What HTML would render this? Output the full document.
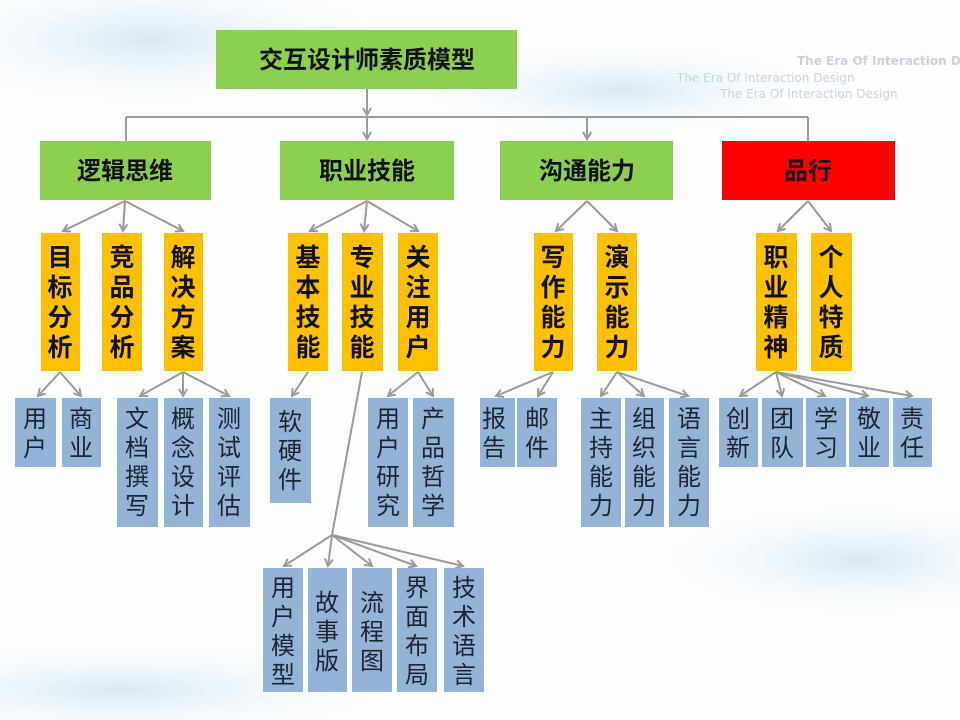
<!DOCTYPE html>
<html><head><meta charset="utf-8"><style>
html,body{margin:0;padding:0;width:960px;height:720px;overflow:hidden;background:#fff}
svg{display:block}
.y{font-family:"Liberation Sans","Noto Sans CJK SC",sans-serif;font-size:25px;font-weight:bold;fill:#111;text-anchor:middle}
.b{font-family:"Liberation Sans","Noto Sans CJK SC",sans-serif;font-size:24px;fill:#1c2430;text-anchor:middle}
.g{font-family:"Liberation Sans","Noto Sans CJK SC",sans-serif;font-size:24px;font-weight:bold;fill:#111;text-anchor:middle}
.w{font-family:"DejaVu Sans",sans-serif;font-size:12px;fill:#c9d3de}
line{stroke:#9a9a9a;stroke-width:2}
</style></head><body>
<svg width="960" height="720" viewBox="0 0 960 720" xmlns="http://www.w3.org/2000/svg">
<defs>
<marker id="a" markerWidth="10" markerHeight="10" refX="8" refY="5" orient="auto" markerUnits="userSpaceOnUse">
<path d="M1,1 L8,5 L1,9" fill="none" stroke="#9a9a9a" stroke-width="2"/></marker>
<radialGradient id="c1" cx="0.5" cy="0.5" r="0.5"><stop offset="0" stop-color="#cfe3f2" stop-opacity="0.8"/><stop offset="1" stop-color="#fff" stop-opacity="0"/></radialGradient>
</defs>
<rect width="960" height="720" fill="#fbfdfe"/>
<ellipse cx="150" cy="40" rx="260" ry="70" fill="url(#c1)"/>
<ellipse cx="620" cy="90" rx="220" ry="50" fill="url(#c1)"/>
<ellipse cx="860" cy="560" rx="220" ry="60" fill="url(#c1)"/>
<ellipse cx="120" cy="690" rx="300" ry="50" fill="url(#c1)"/>
<text class="w" x="797" y="65" font-weight="bold">The Era Of Interaction Design</text>
<text class="w" x="677" y="82">The Era Of Interaction Design</text>
<text class="w" x="720" y="98" fill="#dde4ea">The  Era  Of  Interaction  Design</text>

<rect x="216" y="30" width="301" height="59" fill="#8dcf4e"/>
<text class="g" x="367" y="68">交互设计师素质模型</text>
<line x1="367" y1="89" x2="367" y2="115" marker-end="url(#a)"/>
<line x1="126" y1="117" x2="808" y2="117"/>
<line x1="126" y1="117" x2="126" y2="141"/>
<line x1="367" y1="117" x2="367" y2="139" marker-end="url(#a)"/>
<line x1="587" y1="117" x2="587" y2="139" marker-end="url(#a)"/>
<line x1="808" y1="117" x2="808" y2="141"/>

<rect x="40" y="141" width="171" height="59" fill="#8dcf4e"/><text class="g" x="125" y="179">逻辑思维</text>
<rect x="280" y="141" width="174" height="59" fill="#8dcf4e"/><text class="g" x="367" y="179">职业技能</text>
<rect x="500" y="141" width="173" height="59" fill="#8dcf4e"/><text class="g" x="587" y="179">沟通能力</text>
<rect x="722" y="141" width="173" height="59" fill="#ff0000"/><text class="g" x="808" y="179">品行</text>

<g>
<line x1="125" y1="201" x2="63" y2="231" marker-end="url(#a)"/>
<line x1="125" y1="201" x2="123" y2="231" marker-end="url(#a)"/>
<line x1="125" y1="201" x2="183" y2="231" marker-end="url(#a)"/>
<line x1="367" y1="201" x2="310" y2="231" marker-end="url(#a)"/>
<line x1="367" y1="201" x2="364" y2="231" marker-end="url(#a)"/>
<line x1="367" y1="201" x2="418" y2="231" marker-end="url(#a)"/>
<line x1="587" y1="201" x2="556" y2="231" marker-end="url(#a)"/>
<line x1="587" y1="201" x2="617" y2="231" marker-end="url(#a)"/>
<line x1="808" y1="201" x2="778" y2="231" marker-end="url(#a)"/>
<line x1="808" y1="201" x2="831" y2="231" marker-end="url(#a)"/>
</g>

<g fill="#ffc000">
<rect x="41" y="233" width="39" height="138"/><rect x="102" y="233" width="40" height="138"/><rect x="164" y="233" width="39" height="138"/>
<rect x="288" y="233" width="40" height="138"/><rect x="342" y="233" width="41" height="138"/><rect x="398" y="233" width="40" height="138"/>
<rect x="534" y="233" width="39" height="138"/><rect x="597" y="233" width="40" height="138"/>
<rect x="756" y="233" width="41" height="138"/><rect x="811" y="233" width="41" height="138"/>
</g>
<g>
<text class="y" x="60" y="266">目</text><text class="y" x="60" y="296">标</text><text class="y" x="60" y="326">分</text><text class="y" x="60" y="356">析</text>
<text class="y" x="122" y="266">竞</text><text class="y" x="122" y="296">品</text><text class="y" x="122" y="326">分</text><text class="y" x="122" y="356">析</text>
<text class="y" x="183" y="266">解</text><text class="y" x="183" y="296">决</text><text class="y" x="183" y="326">方</text><text class="y" x="183" y="356">案</text>
<text class="y" x="308" y="266">基</text><text class="y" x="308" y="296">本</text><text class="y" x="308" y="326">技</text><text class="y" x="308" y="356">能</text>
<text class="y" x="362" y="266">专</text><text class="y" x="362" y="296">业</text><text class="y" x="362" y="326">技</text><text class="y" x="362" y="356">能</text>
<text class="y" x="418" y="266">关</text><text class="y" x="418" y="296">注</text><text class="y" x="418" y="326">用</text><text class="y" x="418" y="356">户</text>
<text class="y" x="553" y="266">写</text><text class="y" x="553" y="296">作</text><text class="y" x="553" y="326">能</text><text class="y" x="553" y="356">力</text>
<text class="y" x="617" y="266">演</text><text class="y" x="617" y="296">示</text><text class="y" x="617" y="326">能</text><text class="y" x="617" y="356">力</text>
<text class="y" x="776" y="266">职</text><text class="y" x="776" y="296">业</text><text class="y" x="776" y="326">精</text><text class="y" x="776" y="356">神</text>
<text class="y" x="831" y="266">个</text><text class="y" x="831" y="296">人</text><text class="y" x="831" y="326">特</text><text class="y" x="831" y="356">质</text>
</g>

<line x1="60" y1="372" x2="38" y2="396" marker-end="url(#a)"/>
<line x1="60" y1="372" x2="81" y2="396" marker-end="url(#a)"/>
<line x1="183" y1="372" x2="140" y2="396" marker-end="url(#a)"/>
<line x1="183" y1="372" x2="183" y2="396" marker-end="url(#a)"/>
<line x1="183" y1="372" x2="229" y2="396" marker-end="url(#a)"/>
<line x1="308" y1="372" x2="292" y2="396" marker-end="url(#a)"/>
<line x1="418" y1="372" x2="388" y2="396" marker-end="url(#a)"/>
<line x1="418" y1="372" x2="433" y2="396" marker-end="url(#a)"/>
<line x1="553" y1="372" x2="496" y2="396" marker-end="url(#a)"/>
<line x1="553" y1="372" x2="538" y2="396" marker-end="url(#a)"/>
<line x1="617" y1="372" x2="601" y2="396" marker-end="url(#a)"/>
<line x1="617" y1="372" x2="644" y2="396" marker-end="url(#a)"/>
<line x1="617" y1="372" x2="688" y2="396" marker-end="url(#a)"/>
<line x1="776" y1="372" x2="740" y2="396" marker-end="url(#a)"/>
<line x1="776" y1="372" x2="782" y2="396" marker-end="url(#a)"/>
<line x1="776" y1="372" x2="825" y2="396" marker-end="url(#a)"/>
<line x1="776" y1="372" x2="868" y2="396" marker-end="url(#a)"/>
<line x1="776" y1="372" x2="912" y2="396" marker-end="url(#a)"/>
<line x1="362" y1="372" x2="332" y2="535"/>
<line x1="332" y1="535" x2="284" y2="566" marker-end="url(#a)"/>
<line x1="332" y1="535" x2="328" y2="566" marker-end="url(#a)"/>
<line x1="332" y1="535" x2="372" y2="566" marker-end="url(#a)"/>
<line x1="332" y1="535" x2="416" y2="566" marker-end="url(#a)"/>
<line x1="332" y1="535" x2="463" y2="566" marker-end="url(#a)"/>

<g fill="#95b3d7">
<rect x="15" y="398" width="41" height="69"/><rect x="62" y="398" width="39" height="69"/>
<rect x="117" y="398" width="41" height="129"/><rect x="164" y="398" width="39" height="129"/><rect x="209" y="398" width="41" height="129"/>
<rect x="270" y="398" width="41" height="105"/>
<rect x="368" y="398" width="40" height="129"/><rect x="413" y="398" width="41" height="129"/>
<rect x="480" y="398" width="35" height="69"/><rect x="517" y="398" width="40" height="69"/>
<rect x="581" y="398" width="40" height="129"/><rect x="625" y="398" width="39" height="129"/><rect x="669" y="398" width="40" height="129"/>
<rect x="719" y="398" width="39" height="69"/><rect x="762" y="398" width="41" height="69"/><rect x="806" y="398" width="40" height="69"/><rect x="849" y="398" width="40" height="69"/><rect x="893" y="398" width="39" height="69"/>
<rect x="263" y="568" width="40" height="124"/><rect x="308" y="568" width="39" height="124"/><rect x="352" y="568" width="40" height="124"/><rect x="397" y="568" width="40" height="124"/><rect x="444" y="568" width="40" height="124"/>
</g>
<g>
<text class="b" x="35" y="427">用</text><text class="b" x="35" y="456">户</text>
<text class="b" x="81" y="427">商</text><text class="b" x="81" y="456">业</text>
<text class="b" x="137" y="427">文</text><text class="b" x="137" y="456">档</text><text class="b" x="137" y="485">撰</text><text class="b" x="137" y="514">写</text>
<text class="b" x="183" y="427">概</text><text class="b" x="183" y="456">念</text><text class="b" x="183" y="485">设</text><text class="b" x="183" y="514">计</text>
<text class="b" x="229" y="427">测</text><text class="b" x="229" y="456">试</text><text class="b" x="229" y="485">评</text><text class="b" x="229" y="514">估</text>
<text class="b" x="290" y="430">软</text><text class="b" x="290" y="459">硬</text><text class="b" x="290" y="488">件</text>
<text class="b" x="388" y="427">用</text><text class="b" x="388" y="456">户</text><text class="b" x="388" y="485">研</text><text class="b" x="388" y="514">究</text>
<text class="b" x="433" y="427">产</text><text class="b" x="433" y="456">品</text><text class="b" x="433" y="485">哲</text><text class="b" x="433" y="514">学</text>
<text class="b" x="494" y="427">报</text><text class="b" x="494" y="456">告</text>
<text class="b" x="537" y="427">邮</text><text class="b" x="537" y="456">件</text>
<text class="b" x="601" y="427">主</text><text class="b" x="601" y="456">持</text><text class="b" x="601" y="485">能</text><text class="b" x="601" y="514">力</text>
<text class="b" x="644" y="427">组</text><text class="b" x="644" y="456">织</text><text class="b" x="644" y="485">能</text><text class="b" x="644" y="514">力</text>
<text class="b" x="689" y="427">语</text><text class="b" x="689" y="456">言</text><text class="b" x="689" y="485">能</text><text class="b" x="689" y="514">力</text>
<text class="b" x="738" y="427">创</text><text class="b" x="738" y="456">新</text>
<text class="b" x="782" y="427">团</text><text class="b" x="782" y="456">队</text>
<text class="b" x="826" y="427">学</text><text class="b" x="826" y="456">习</text>
<text class="b" x="869" y="427">敬</text><text class="b" x="869" y="456">业</text>
<text class="b" x="912" y="427">责</text><text class="b" x="912" y="456">任</text>
<text class="b" x="283" y="596">用</text><text class="b" x="283" y="625">户</text><text class="b" x="283" y="654">模</text><text class="b" x="283" y="683">型</text>
<text class="b" x="327" y="611">故</text><text class="b" x="327" y="640">事</text><text class="b" x="327" y="669">版</text>
<text class="b" x="372" y="611">流</text><text class="b" x="372" y="640">程</text><text class="b" x="372" y="669">图</text>
<text class="b" x="417" y="596">界</text><text class="b" x="417" y="625">面</text><text class="b" x="417" y="654">布</text><text class="b" x="417" y="683">局</text>
<text class="b" x="464" y="596">技</text><text class="b" x="464" y="625">术</text><text class="b" x="464" y="654">语</text><text class="b" x="464" y="683">言</text>
</g>
</svg>
</body></html>
